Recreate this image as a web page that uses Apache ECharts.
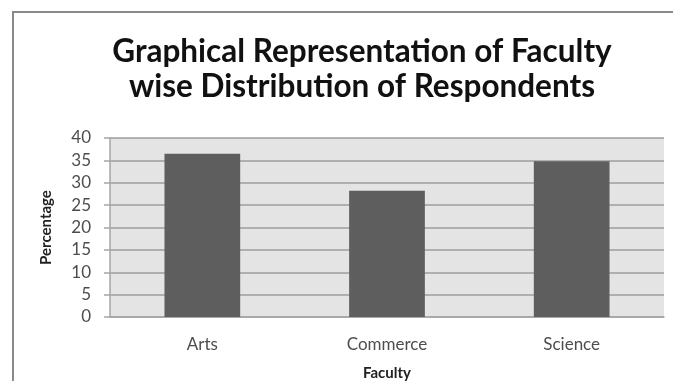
<!DOCTYPE html>
<html>
<head>
<meta charset="utf-8">
<script src="https://cdn.jsdelivr.net/npm/echarts@6/dist/echarts.min.js"></script>
<style>html,body{margin:0;padding:0;background:#fff;overflow:hidden;}#c{width:673px;height:381px;}</style>
</head>
<body>
<div id="c"></div>
<script>
var categories = ['Arts', 'Commerce', 'Science'];
var percentages = [36.5, 28.2, 34.8];
var yTicks = [0, 5, 10, 15, 20, 25, 30, 35, 40];

var chart = echarts.init(document.getElementById('c'), null, {renderer: 'canvas', width: 673, height: 381});
chart.setOption({
  animation: false,
  backgroundColor: '#ffffff',
  title: {
    text: 'Graphical Representation of Faculty\nwise Distribution of Respondents',
    left: 357,
    top: 29,
    textAlign: 'center',
    textStyle: {fontFamily: 'Lato', fontWeight: 'bold', fontSize: 31.5, lineHeight: 35, color: '#111'}
  },
  graphic: [{
    type: 'polyline', silent: true, z: 100,
    shape: {points: [[13, 390], [13, 12], [690, 12]]},
    style: {fill: null, stroke: '#8a8a8a', lineWidth: 2}
  }],
  grid: {left: 110, right: 9, top: 138, bottom: 64, show: true, backgroundColor: '#e4e4e4', borderWidth: 0,
    containLabel: false, outerBoundsMode: 'none'},
  xAxis: {
    type: 'category',
    data: categories,
    name: 'Faculty',
    nameLocation: 'middle',
    nameGap: 49,
    nameTextStyle: {fontFamily: 'Lato', fontWeight: 'bold', fontSize: 15, color: '#222'},
    axisLine: {show: true, lineStyle: {color: '#a6a6a6', width: 1.5}},
    axisTick: {show: false},
    axisLabel: {fontFamily: 'Lato', fontSize: 17, color: '#4d4d4d', margin: 19}
  },
  yAxis: {
    type: 'value',
    min: 0, max: 40, interval: 5,
    name: 'Percentage',
    nameLocation: 'middle',
    nameGap: 56,
    nameTextStyle: {fontFamily: 'Lato', fontWeight: 'bold', fontSize: 15, color: '#222'},
    axisLine: {show: true, lineStyle: {color: '#a6a6a6', width: 1.5}},
    axisTick: {show: true, length: 6, lineStyle: {color: '#a6a6a6', width: 1.5}},
    axisLabel: {fontFamily: 'Lato', fontSize: 17, color: '#4d4d4d', margin: 19,
      formatter: function (v) { return yTicks.indexOf(v) >= 0 ? String(v) : ''; }},
    splitLine: {show: true, lineStyle: {color: '#9e9e9e', width: 1.5}}
  },
  series: [{
    type: 'bar',
    data: percentages,
    barWidth: '41%',
    itemStyle: {color: '#5e5e5e'}
  }]
});
</script>
</body>
</html>
